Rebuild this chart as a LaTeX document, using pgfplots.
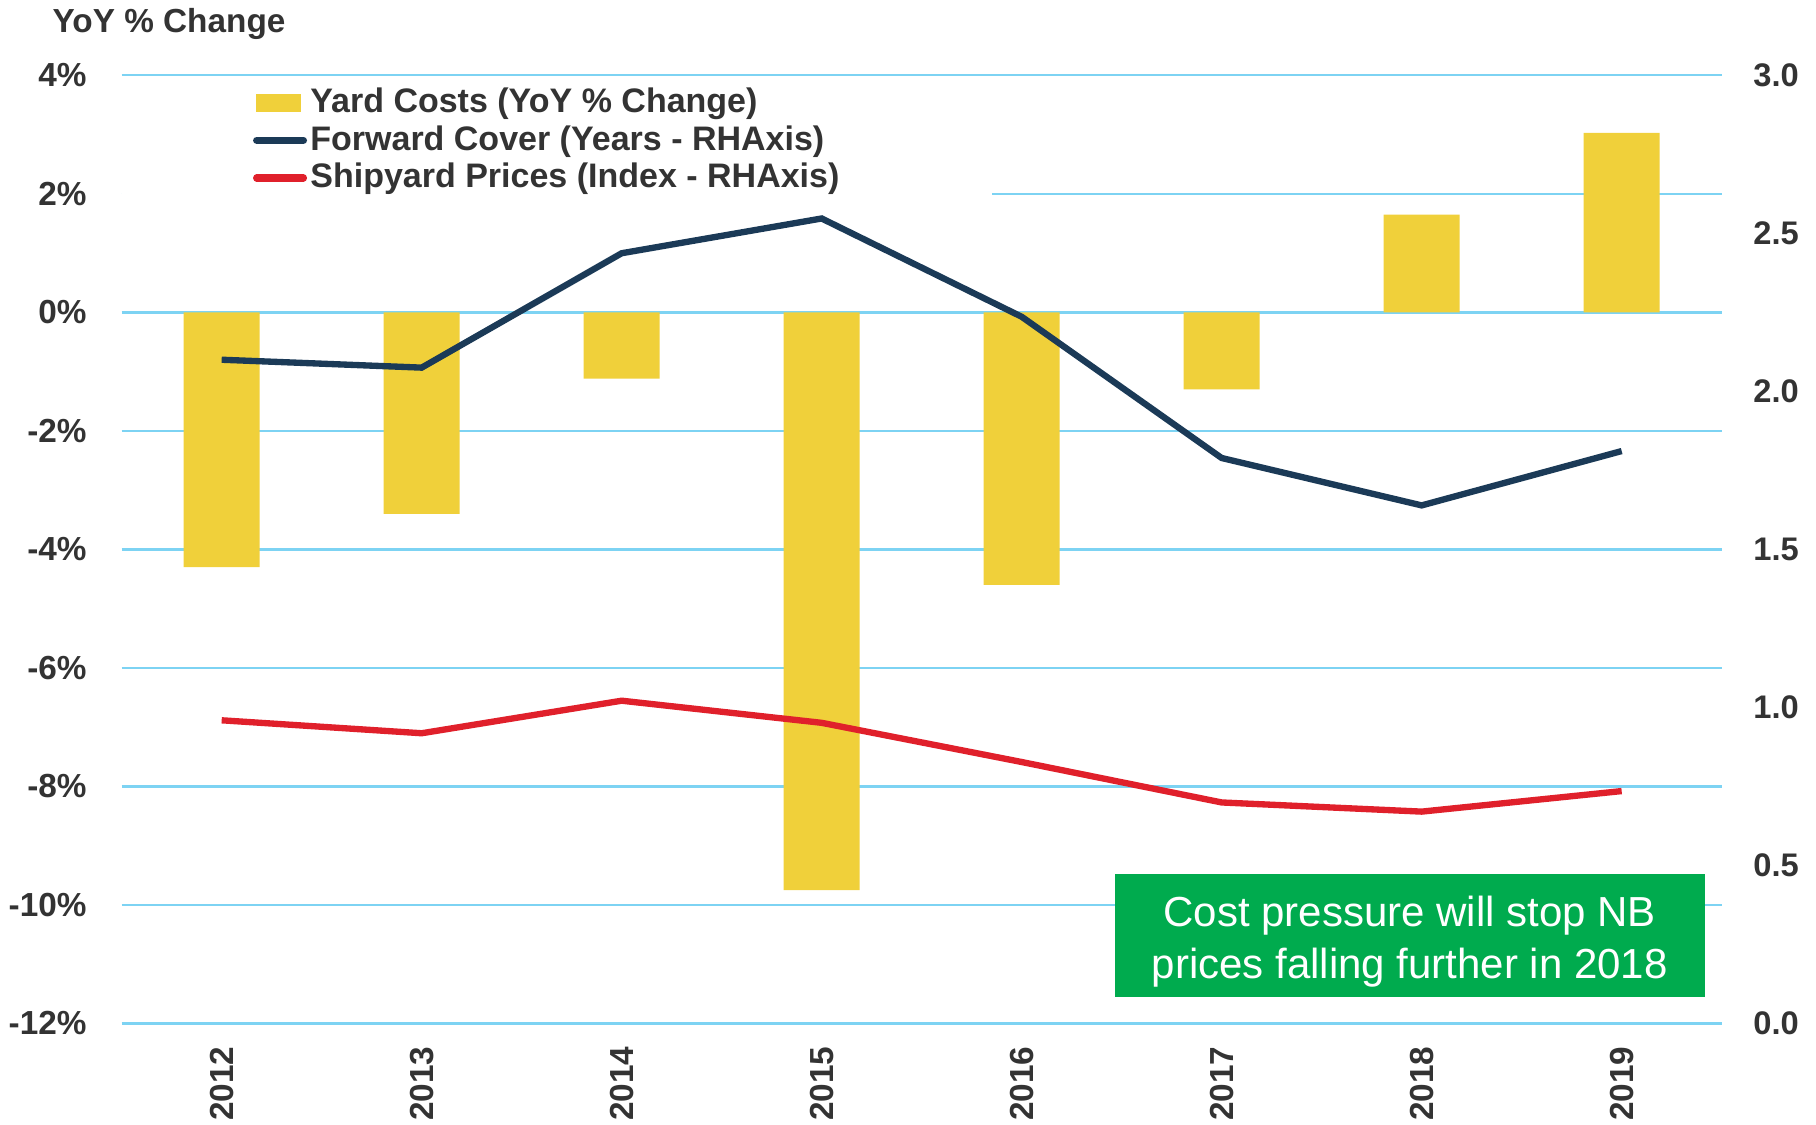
\documentclass[border=0pt]{standalone}
\usepackage{pgfplots}
\pgfplotsset{compat=1.18}
\usepackage{fontspec}
\setmainfont{Liberation Sans}
\definecolor{yardyellow}{HTML}{F0D03A}
\definecolor{navy}{HTML}{1B3A57}
\definecolor{shipred}{HTML}{E0202B}
\definecolor{boxgreen}{HTML}{00AB4E}
\definecolor{gridblue}{HTML}{7DD3F3}
\definecolor{txt}{HTML}{333333}
\begin{document}
\begin{tikzpicture}
\begin{axis}[
  at={(0,0)}, anchor=south west,
  scale only axis, width=480pt, height=284.4pt,
  xmin=-0.5, xmax=7.5, ymin=-12, ymax=4,
  xtick={0,1,2,3,4,5,6,7},
  xticklabels={2012,2013,2014,2015,2016,2017,2018,2019},
  x tick label style={rotate=90, anchor=east, font=\bfseries\fontsize{10}{10}\selectfont, text=txt, yshift=0pt, xshift=-3.5pt},
  ytick={-12,-10,-8,-6,-4,-2,0,2,4},
  yticklabel={\pgfmathprintnumber{\tick}\%},
  /pgf/number format/assume math mode=true,
  y tick label style={font=\bfseries\fontsize{10}{10}\selectfont, text=txt, xshift=-7pt},
  ymajorgrids, grid style={gridblue, line width=0.7pt},
  axis line style={draw=none}, tick style={draw=none}, major tick length=0pt,
  clip=false,
]
\addplot[ybar, bar width=0.38, bar shift=0pt, fill=yardyellow, draw=none] coordinates {
  (0,-4.3) (1,-3.4) (2,-1.12) (3,-9.75) (4,-4.6) (5,-1.3) (6,1.65) (7,3.03)
};
\fill[white] (rel axis cs:0,0.866) rectangle (rel axis cs:0.544,0.884);
\node[fill=boxgreen, inner sep=0pt, minimum width=177pt, minimum height=37pt] at (axis cs:5.94,-10.52) {};
\node[text=white, align=center, inner sep=0pt,
      font=\fontsize{12.6}{15.6}\selectfont] at (axis cs:5.94,-10.52) [yshift=-1.8pt]
  {Cost pressure will stop NB\\prices falling further in 2018};
\end{axis}
\begin{axis}[
  at={(0,0)}, anchor=south west,
  scale only axis, width=480pt, height=284.4pt,
  xmin=-0.5, xmax=7.5, ymin=0, ymax=3,
  axis x line=none, axis y line*=right,
  axis line style={draw=none}, tick style={draw=none}, major tick length=0pt,
  ytick={0,0.5,1,1.5,2,2.5,3},
  yticklabel style={/pgf/number format/.cd, fixed, fixed zerofill, precision=1, assume math mode=true, /tikz/.cd,
    font=\bfseries\fontsize{9.8}{10}\selectfont, text=txt, xshift=6pt},
  legend style={at={(rel axis cs:0.0817,0.991)}, anchor=north west, draw=none, fill=white,
    font=\bfseries\fontsize{10.2}{11}\selectfont, text=txt, inner sep=0pt, row sep=0.4pt,
    nodes={inner sep=1pt},
    /tikz/every even column/.append style={column sep=0pt}},
  legend cell align=left,
  legend image code/.code={\draw[#1, line cap=round, line width=2.2pt] (0pt,0pt) -- (14pt,0pt);},
]
\addlegendimage{legend image code/.code={\fill[yardyellow] (0pt,-2.5pt) rectangle (13pt,2.5pt);}}
\addlegendentry{Yard Costs (YoY \% Change)}
\addplot[navy, line width=1.9pt, mark=none] coordinates {
  (0,2.10) (1,2.075) (2,2.437) (3,2.547) (4,2.236) (5,1.789) (6,1.639) (7,1.811)
};
\addlegendentry{Forward Cover (Years - RHAxis)}
\addplot[shipred, line width=1.9pt, mark=none] coordinates {
  (0,0.959) (1,0.918) (2,1.021) (3,0.951) (4,0.827) (5,0.699) (6,0.670) (7,0.735)
};
\addlegendentry{Shipyard Prices (Index - RHAxis)}
\end{axis}
\node[anchor=west, font=\bfseries\fontsize{10}{10}\selectfont, text=txt, inner sep=0pt] at (-20.9pt,299.8pt) {YoY \% Change};
\pgfresetboundingbox
\useasboundingbox (-36.5pt,-30.4pt) rectangle (508.3pt,307pt);
\end{tikzpicture}
\end{document}
